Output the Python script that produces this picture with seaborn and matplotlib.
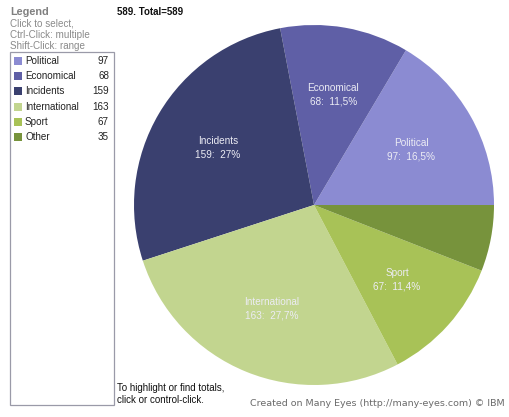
import matplotlib
matplotlib.use("Agg")
import matplotlib.pyplot as plt
import seaborn as sns
from matplotlib.patches import Rectangle

# data
categories = ["Political", "Economical", "Incidents", "International", "Sport", "Other"]
counts = [97, 68, 159, 163, 67, 35]
colors = ["#8b8bd2", "#5f5fa6", "#3a406f", "#c2d58f", "#a8c257", "#77933c"]

total = sum(counts)

sns.set_theme(style="white")
plt.rcParams['font.family'] = ['Liberation Sans', 'DejaVu Sans']

W, H = 509, 417
fig = plt.figure(figsize=(W / 100, H / 100), dpi=100)


def fx(x):
    return x / W


def fy(y):
    return 1 - y / H


# pie axes: centre approx (314, 205), radius 180 px
cx, cy, r = 314, 205, 180
ax = fig.add_axes([fx(cx - r), fy(cy + r), 2 * r / W, 2 * r / H])


def pct_label(n):
    p = round(n / total * 100, 1)
    s = f"{p:.1f}".replace(".", ",")
    if s.endswith(",0"):
        s = s[:-2]
    return s + "%"


labels = []
for c, n in zip(categories, counts):
    if n / total < 0.08:
        labels.append("")
    else:
        labels.append(f"{c}\n{n}:  {pct_label(n)}")

wedges, texts = ax.pie(counts, labels=labels, colors=colors, startangle=0,
                       counterclock=True, labeldistance=0.62, radius=1,
                       wedgeprops=dict(linewidth=0),
                       textprops=dict(color="#ececf4", fontsize=7.2, linespacing=1.45))
for t in texts:
    t.set_ha("center")
    t.set_va("center")
ax.set_xlim(-1, 1)
ax.set_ylim(-1, 1)
ax.set_aspect("auto")
ax.axis("off")

# legend panel
fig.text(fx(10), fy(12), "Legend", fontsize=7.8, fontweight="bold", color="#808080", va="center")
fig.text(fx(10), fy(24), "Click to select,", fontsize=7.1, color="#8a8a8a", va="center")
fig.text(fx(10), fy(35), "Ctrl-Click: multiple", fontsize=7.1, color="#8a8a8a", va="center")
fig.text(fx(10), fy(46), "Shift-Click: range", fontsize=7.1, color="#8a8a8a", va="center")

fig.patches.append(Rectangle((fx(9.5), fy(404.5)), (113.5 - 9.5) / W, (404.5 - 52) / H,
                             transform=fig.transFigure, fill=False,
                             edgecolor="#9a9aa8", linewidth=0.9))

for i, (c, n, col) in enumerate(zip(categories, counts, colors)):
    y = 61 + i * 15.2
    fig.patches.append(Rectangle((fx(14), fy(y + 4)), 8 / W, 8 / H,
                                 transform=fig.transFigure, facecolor=col, edgecolor="none"))
    fig.text(fx(25), fy(y), c, fontsize=7.1, color="#222222", va="center")
    fig.text(fx(109), fy(y), str(n), fontsize=7.1, color="#222222", va="center", ha="right")

fig.text(fx(117), fy(12), f"{total}. Total={total}", fontsize=7, fontweight="bold",
         color="#111111", va="center")
fig.text(fx(117), fy(388), "To highlight or find totals,", fontsize=7, color="#111111", va="center")
fig.text(fx(117), fy(400), "click or control-click.", fontsize=7, color="#111111", va="center")
fig.text(fx(250), fy(404), "Created on Many Eyes (http://many-eyes.com) \u00a9 IBM",
         fontsize=6.8, color="#6a6a6a", va="center", family=["DejaVu Sans"])

fig.savefig("out.png", dpi=100, facecolor="white")
